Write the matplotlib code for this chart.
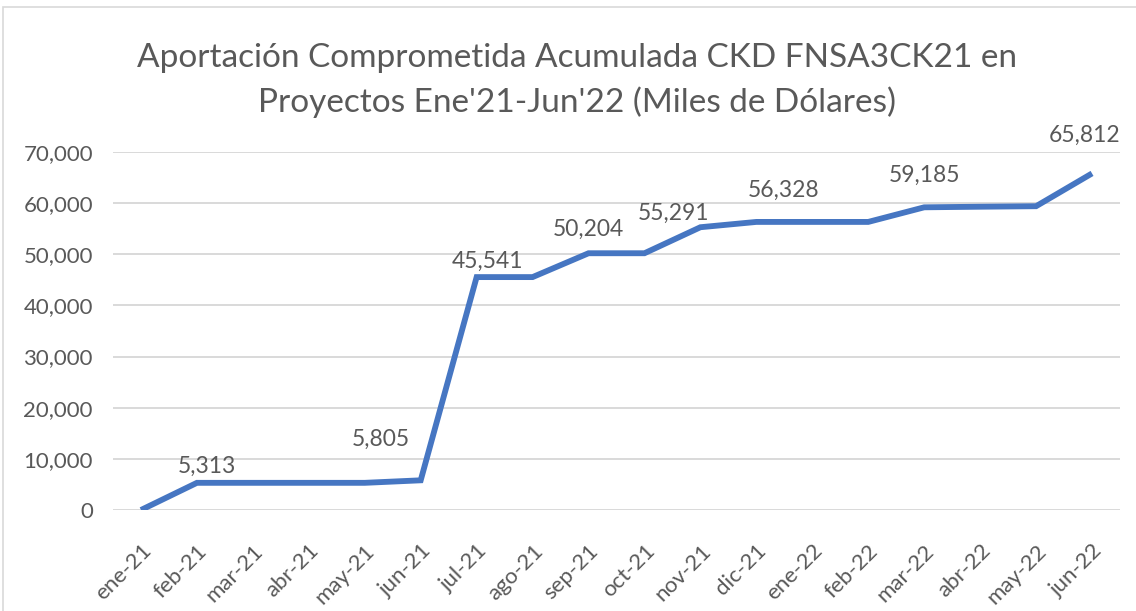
import matplotlib.pyplot as plt
import numpy as np
from matplotlib.patches import Rectangle
from matplotlib.ticker import FuncFormatter
from matplotlib.transforms import ScaledTranslation

months = ["ene-21", "feb-21", "mar-21", "abr-21", "may-21", "jun-21",
          "jul-21", "ago-21", "sep-21", "oct-21", "nov-21", "dic-21",
          "ene-22", "feb-22", "mar-22", "abr-22", "may-22", "jun-22"]
aportacion = [0, 5313, 5313, 5313, 5313, 5805,
              45541, 45541, 50204, 50204, 55291, 56328,
              56328, 56328, 59185, 59300, 59400, 65812]

# which points get a data label, and the label nudge in pixels (dx, dy)
label_idx = [1, 5, 6, 8, 10, 11, 14, 17]
label_off = [(10, 16), (-40, 41), (11, 16), (0, 24),
             (-27, 14), (27, 32), (0, 32), (-7, 38)]

title_lines = ["Aportación Comprometida Acumulada CKD FNSA3CK21 en",
               "Proyectos Ene'21-Jun'22 (Miles de Dólares)"]

GRAY = "#595959"
BLUE = "#4676C2"
FONT = "Lato"

fig = plt.figure(figsize=(11.36, 6.11), dpi=100)
fig.patch.set_facecolor("white")
fig.patches.append(Rectangle((3 / 1136, -0.01), 1.2, 1 - 7 / 611 + 0.01,
                             transform=fig.transFigure, fill=False,
                             edgecolor="#d9d9d9", linewidth=1.2))

ax = fig.add_axes([113 / 1136, 1 - 510 / 611, (1120 - 113) / 1136,
                   (510 - 152) / 611])
x = np.arange(len(months))
ax.plot(x, aportacion, color=BLUE, linewidth=4.2, solid_joinstyle="miter",
        solid_capstyle="butt", zorder=3)

ax.set_xlim(-0.5, len(months) - 0.5)
ax.set_ylim(0, 70000)
ax.set_yticks(np.arange(0, 70001, 10000))
ax.yaxis.set_major_formatter(FuncFormatter(lambda v, _: f"{v:,.0f}"))
ax.grid(axis="y", color="#d9d9d9", linewidth=1.4, zorder=0)
ax.set_axisbelow(True)
for sp in ax.spines.values():
    sp.set_visible(False)

ax.set_xticks(x)
ax.set_xticklabels(months, rotation=45, ha="right", va="top",
                   rotation_mode="anchor", fontfamily=FONT, fontsize=16,
                   color=GRAY)
shift = ScaledTranslation(5 / 100, 0, fig.dpi_scale_trans)
for t in ax.get_xticklabels():
    t.set_transform(t.get_transform() + shift)
ax.tick_params(axis="x", length=0, pad=22)
ax.tick_params(axis="y", length=0, pad=14.4, labelsize=16, labelcolor=GRAY)
for t in ax.get_yticklabels():
    t.set_fontfamily(FONT)

for i, (dx, dy) in zip(label_idx, label_off):
    ax.annotate(f"{aportacion[i]:,}", (x[i], aportacion[i]),
                xytext=(dx * 0.72, dy * 0.72), textcoords="offset points",
                ha="center", va="center", fontsize=16.5, color=GRAY,
                fontfamily=FONT, annotation_clip=False)

for line, base in zip(title_lines, [67, 112]):
    fig.text(577 / 1136, 1 - base / 611, line, ha="center", va="baseline",
             fontsize=24, color=GRAY, fontfamily=FONT)

fig.savefig("out.png", dpi=100, facecolor="white")
